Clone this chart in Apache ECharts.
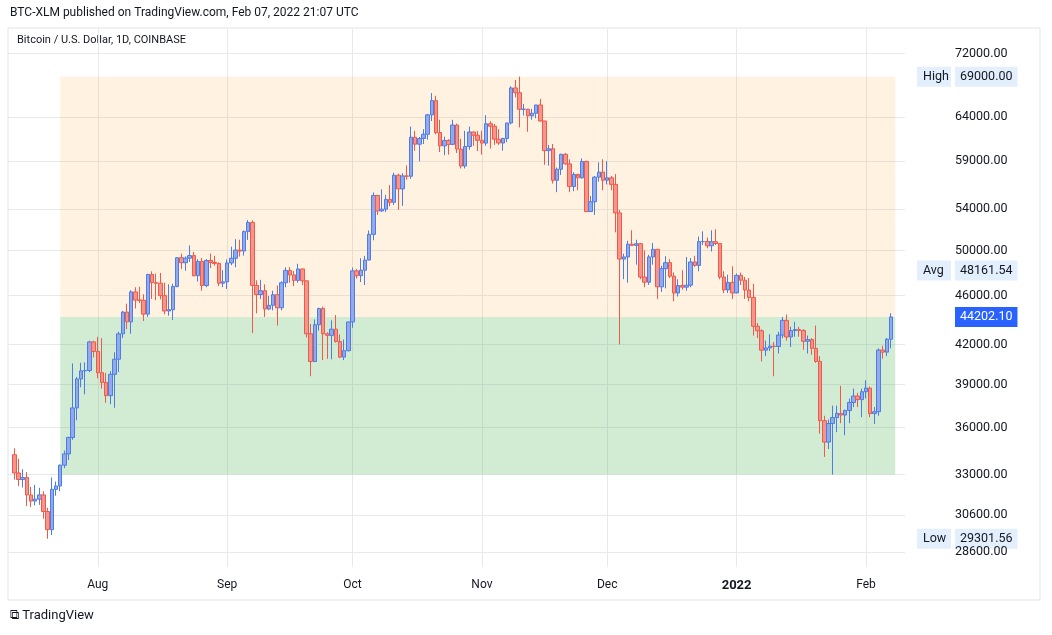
<!DOCTYPE html>
<html><head><meta charset="utf-8">
<script src="https://cdn.jsdelivr.net/npm/echarts@6/dist/echarts.min.js"></script>
<style>html,body{margin:0;padding:0;background:#fff}#c{width:1052px;height:635px}</style>
</head><body><div id="c"></div>
<script>
const startDate = '2021-07-12';
const firstOpen = 34240;
const closes = [
33100,32700,32820,31780,31420,31530,31780,30820,29800,32110,32310,33580,34290,35350,37340,39400,40000,40020,42200,41460,
39860,39150,38200,39740,40870,42840,44600,43800,46300,45600,45590,44430,47820,47100,47050,45980,44690,44800,46760,49330,48870,49290,49520,47710,48990,46850,49070,48900,48810,47050,47170,
48850,49280,50030,49940,51770,52660,46860,46070,46400,44850,45160,46060,44960,47090,48180,47780,47300,48310,47260,42840,40690,43570,44890,42840,42720,43210,42230,41030,41520,43790,
48140,47710,48200,49110,51510,55360,53800,53970,54960,54660,57480,56040,57400,57370,61670,60880,61530,62010,64280,66000,62210,60690,61290,60860,63080,60330,58460,60620,62270,61890,61320,
61000,63230,62940,61450,61010,61530,63320,67570,66970,64950,64950,64160,64470,65470,63560,60160,60370,56940,58120,59750,58700,56290,57570,57200,58960,53730,54720,57270,57810,56950,
57200,56510,53600,49200,49400,50580,50470,50620,47590,47140,49400,50100,46740,48340,48880,47670,46200,46850,46710,46880,48940,48630,50820,50830,50430,50810,50640,47590,46470,47120,46210,
47740,47310,46460,45830,43440,43080,41560,41730,41870,41840,42740,43920,42590,43100,43180,43110,42250,42380,41700,40700,36470,35050,36280,36680,36960,36850,37160,37720,38170,37920,38480,
38740,36950,37080,41570,41410,42410,44202.10];
const highs = [
34650,33980,33330,33150,32250,32380,32200,32000,31030,32820,32580,33620,34500,35400,40550,39550,40600,40630,42300,42290,
42600,42500,39850,39970,41400,43000,44700,45300,46450,46700,46740,46100,47880,48100,47900,47950,47100,46950,47000,49380,49700,49450,50460,49850,49200,49300,49200,49700,49500,48900,48200,
49170,50350,51050,51000,51890,52890,52860,47300,47350,46950,45940,46400,46850,47220,48460,48470,48130,48780,48340,47290,43640,44000,44960,45050,42960,43920,44350,42780,42390,43810,
48440,48300,49280,49500,51880,55680,55370,56000,55420,56430,57750,57640,57700,58530,62900,62400,61700,62600,64400,66930,66600,63700,61730,61450,63700,63250,61480,62400,62900,62300,62380,
62420,64230,63520,63200,62600,61600,63300,67790,68570,69000,65600,65000,65000,65470,66200,63560,60800,60900,58300,59800,59900,59200,57800,57400,59300,59050,55300,57400,58860,59200,
59000,57400,57600,53900,49700,50900,51900,51000,50700,50000,49600,50700,50100,48600,49470,49200,48000,47400,48200,49400,49300,49500,51300,51800,51200,51900,52000,50600,48100,47800,48550,
47900,47990,47600,47500,47000,43700,43200,42300,42800,42200,43000,44200,44400,43400,43800,43400,43200,42700,42500,43500,41100,36800,36550,37500,37500,38900,37230,38000,38700,38400,38700,
39300,38850,37400,41700,41900,42500,44500];
const lows = [
32700,32300,32220,31130,31080,31170,31200,30410,29301.56,29500,31730,32000,33400,33900,35200,36500,38800,38300,39900,41000,
39450,38700,37700,37600,37350,39900,42500,43200,42850,44900,45350,43870,44200,45700,45600,45660,44420,44300,43950,46700,48300,48150,48950,47650,47200,46400,46700,48400,48600,46800,46700,
46560,48650,48460,49430,49520,50980,42900,44500,45700,44200,44750,44740,43500,44740,46700,47100,46800,47100,46900,42550,39600,40660,43100,40800,40900,40860,42140,40950,40800,41470,
43320,47450,47150,46900,49100,50950,53400,53700,53690,54260,54400,53900,54300,57000,57100,60150,58980,60900,61400,63550,62000,60000,59650,59700,60770,59900,58200,58200,60250,60700,60100,
59720,60700,60400,60800,60800,60150,61100,63150,66400,62800,64200,62300,63700,63870,63450,58600,58500,56600,55700,57500,58600,55700,55800,55900,57100,53700,53700,53400,56800,55900,
56500,55900,51700,42000,47400,47100,50400,48700,47400,46700,46900,48700,45700,46300,46600,47500,45500,45900,46500,46400,46700,48500,48100,50500,50200,49900,50500,47400,46200,46200,45700,
46300,46900,45700,45500,42700,42500,40700,41100,41500,39600,41300,42500,42300,41800,42600,42600,41600,41300,41200,40600,35600,34100,34600,33000,35700,36300,35500,36300,37400,37400,36700,
38000,36700,36250,36800,40900,41100,41700];
const yTicks = [28600,30600,33000,36000,39000,42000,46000,50000,54000,59000,64000,72000];
const monthTicks = ['2021-08-01','2021-09-01','2021-10-01','2021-11-01','2021-12-01','2022-01-01','2022-02-01'];
const monthLabels = ['Aug','Sep','Oct','Nov','Dec','2022','Feb'];
const rangeStart = '2021-07-23', rangeEnd = '2022-02-08';
const rangeHigh = 69000, rangeLow = 33000, rangeMid = 44202.10;
const tagNames = ['High', 'Avg', 'Low'];
const tagValues = [69000, 48161.54, 29301.56];
const lastValue = 44202.10;

const DAY = 86400000;
const D = s => Date.parse(s + 'T00:00:00Z');
const t0 = D(startDate);
const L = Math.log;
const data = closes.map((c, i) => {
  const o = i === 0 ? firstOpen : closes[i - 1];
  return [t0 + i * DAY, L(o), L(c), L(lows[i]), L(highs[i])];
});
const mt = monthTicks.map(D);
const fmt = v => v.toFixed(2);

const baseGraphic = [
  {type: 'text', left: 10, top: 7, style: {text: 'BTC-XLM published on TradingView.com, Feb 07, 2022 21:07 UTC', fill: '#131722', font: '12px Roboto'}},
  {type: 'text', left: 17, top: 35, style: {text: 'Bitcoin / U.S. Dollar, 1D, COINBASE', fill: '#131722', font: '11px Roboto'}},
  {type: 'rect', shape: {x: 8, y: 28, width: 1032, height: 572}, style: {fill: 'none', stroke: '#e0e3eb'}},
  {type: 'text', left: 10, top: 609, style: {text: '⧉ TradingView', fill: '#131722', font: '13px Roboto'}}
];

const chart = echarts.init(document.getElementById('c'));
chart.setOption({
  animation: false,
  textStyle: {fontFamily: 'Roboto, sans-serif'},
  grid: {left: 8, right: 147, top: 28, bottom: 68},
  graphic: baseGraphic,
  xAxis: {
    type: 'value',
    min: Date.parse('2021-07-10T12:00:00Z'), max: Date.parse('2022-02-10T08:00:00Z'),
    axisLine: {show: false}, axisTick: {show: false, customValues: mt},
    splitLine: {show: true, lineStyle: {color: '#e6e9ef'}},
    axisLabel: {customValues: mt, color: '#131722', fontSize: 12, margin: 12, hideOverlap: false,
      formatter: v => { const i = mt.indexOf(v); const s = monthLabels[i] || ''; return s === '2022' ? '{b|2022}' : s; },
      rich: {b: {fontWeight: 'bold', fontSize: 13, color: '#131722'}}}
  },
  yAxis: {
    type: 'value', position: 'right',
    min: 10.233, max: 11.232,
    axisLine: {show: false},
    axisTick: {show: false, customValues: yTicks.map(L)},
    splitLine: {show: true, lineStyle: {color: '#e6e9ef'}},
    axisLabel: {customValues: yTicks.map(L), margin: 50, color: '#131722', fontSize: 12.5,
      formatter: v => fmt(Math.round(Math.exp(v)))}
  },
  series: [{
    type: 'candlestick', data: data, barWidth: 4,
    itemStyle: {color: '#92aaec', color0: '#f5958b', borderColor: '#4d7ce6', borderColor0: '#f0584a', borderWidth: 1},
    markArea: {silent: true, data: [
      [{xAxis: D(rangeStart), yAxis: L(rangeMid), itemStyle: {color: 'rgba(255,152,0,0.12)'}}, {xAxis: D(rangeEnd), yAxis: L(rangeHigh)}],
      [{xAxis: D(rangeStart), yAxis: L(rangeLow), itemStyle: {color: 'rgba(76,175,80,0.25)'}}, {xAxis: D(rangeEnd), yAxis: L(rangeMid)}]
    ]}
  }]
});

// value tags placed through the y axis scale
const tags = [];
tagValues.forEach((v, i) => {
  const y = chart.convertToPixel({yAxisIndex: 0}, L(v));
  tags.push({type: 'text', x: 917, y: y, style: {text: tagNames[i], fill: '#131722', font: '12.5px Roboto',
    verticalAlign: 'middle', backgroundColor: '#e3effd', padding: [4, 6, 3, 6], width: 22}});
  tags.push({type: 'text', x: 955, y: y, style: {text: fmt(v), fill: '#131722', font: '12.5px Roboto',
    verticalAlign: 'middle', backgroundColor: '#e3effd', padding: [4, 5, 3, 5]}});
});
const ly = chart.convertToPixel({yAxisIndex: 0}, L(lastValue));
tags.push({type: 'text', x: 955, y: ly, style: {text: fmt(lastValue), fill: '#fff', font: '12.5px Roboto',
  verticalAlign: 'middle', backgroundColor: '#2962ff', padding: [4, 5, 3, 5]}});
chart.setOption({graphic: baseGraphic.concat(tags)});
</script></body></html>
